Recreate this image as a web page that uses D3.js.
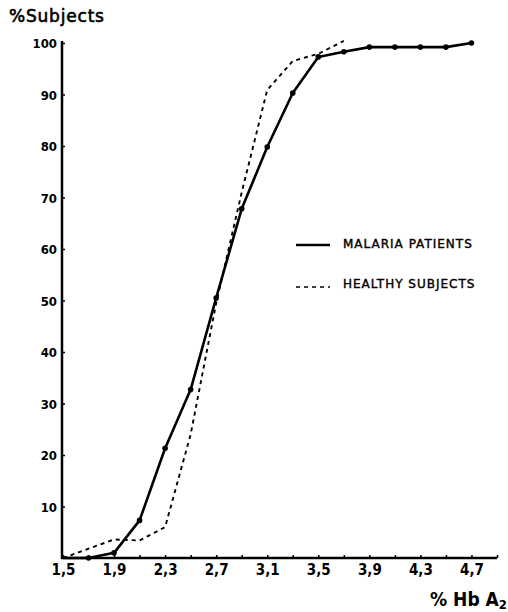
<!DOCTYPE html>
<html>
<head>
<meta charset="utf-8">
<script src="https://cdn.jsdelivr.net/npm/d3@7"></script>
<style>
  body { margin: 0; background: #fff; }
  svg { display: block; }
  .tick text { font-family: "Liberation Sans Narrow", "DejaVu Sans Condensed", sans-serif; font-weight: bold; fill: #000; }
</style>
</head>
<body>
<div id="vis"></div>
<script>
const width = 508;
const height = 612;

// % Hb A2 classes
const hbMalaria = [1.5, 1.7, 1.9, 2.1, 2.3, 2.5, 2.7, 2.9, 3.1, 3.3, 3.5, 3.7, 3.9, 4.1, 4.3, 4.5, 4.7];
const pctMalaria = [0, 0, 1, 7.3, 21.3, 32.7, 50.5, 67.8, 79.8, 90.3, 97.3, 98.3, 99.2, 99.2, 99.2, 99.2, 100];

const hbHealthy = [1.5, 1.7, 1.9, 2.1, 2.3, 2.5, 2.7, 2.9, 3.1, 3.3, 3.5, 3.7];
const pctHealthy = [0, 1.8, 3.6, 3.4, 6, 24, 49.5, 71, 90.9, 96.5, 97.9, 100.4];

const yTicks = [10, 20, 30, 40, 50, 60, 70, 80, 90, 100];
const xTicks = [1.5, 1.7, 1.9, 2.1, 2.3, 2.5, 2.7, 2.9, 3.1, 3.3, 3.5, 3.7, 3.9, 4.1, 4.3, 4.5, 4.7, 4.9];
const xLabels = [1.5, 1.9, 2.3, 2.7, 3.1, 3.5, 3.9, 4.3, 4.7];

const malaria = hbMalaria.map((h, i) => ({ x: h, y: pctMalaria[i] }));
const healthy = hbHealthy.map((h, i) => ({ x: h, y: pctHealthy[i] }));

const svg = d3.select("#vis").append("svg")
    .attr("width", width)
    .attr("height", height);

const xScale = d3.scaleLinear().domain([1.5, 4.9]).range([63, 497]);
const yScale = d3.scaleLinear().domain([0, 100]).range([558, 43]);

// y axis
const yAxis = svg.append("g")
    .attr("transform", "translate(62,0)")
    .call(d3.axisLeft(yScale)
        .tickValues(yTicks)
        .tickSize(-3)
        .tickSizeOuter(0)
        .tickPadding(5)
        .tickFormat(d3.format("d")));
yAxis.select(".domain").remove();
yAxis.selectAll(".tick line").attr("stroke", "#000").attr("stroke-width", 1.5);
yAxis.selectAll(".tick text").style("font-size", "13px").attr("dy", "0.35em");

// x axis
const xAxis = svg.append("g")
    .attr("transform", "translate(0,558)")
    .call(d3.axisBottom(xScale)
        .tickValues(xTicks)
        .tickSize(-3)
        .tickSizeOuter(0)
        .tickPadding(6)
        .tickFormat(d => xLabels.some(v => Math.abs(v - d) < 1e-6) ? d3.format(".1f")(d).replace(".", ",") : ""));
xAxis.select(".domain").remove();
xAxis.selectAll(".tick line").attr("stroke", "#000").attr("stroke-width", 1.5);
xAxis.selectAll(".tick text").style("font-size", "15px");

// axis lines
svg.append("line")
    .attr("x1", 62).attr("x2", 62)
    .attr("y1", yScale(0) + 1).attr("y2", yScale(100) - 2)
    .attr("stroke", "#000").attr("stroke-width", 2.5);
svg.append("line")
    .attr("x1", 61).attr("x2", xScale(4.9))
    .attr("y1", yScale(0)).attr("y2", yScale(0))
    .attr("stroke", "#000").attr("stroke-width", 2.5);

const line = d3.line().x(d => xScale(d.x)).y(d => yScale(d.y));

svg.append("path")
    .datum(healthy)
    .attr("fill", "none")
    .attr("stroke", "#000")
    .attr("stroke-width", 1.9)
    .attr("stroke-dasharray", "4,4")
    .attr("d", line);

svg.append("path")
    .datum(malaria)
    .attr("fill", "none")
    .attr("stroke", "#000")
    .attr("stroke-width", 2.6)
    .attr("stroke-linejoin", "round")
    .attr("d", line);

svg.selectAll("circle.malaria")
    .data(malaria.slice(1))
    .enter().append("circle")
    .attr("class", "malaria")
    .attr("cx", d => xScale(d.x))
    .attr("cy", d => yScale(d.y))
    .attr("r", 2.8)
    .attr("fill", "#000");

// titles
svg.append("text")
    .attr("x", 9).attr("y", 22)
    .style("font-family", "'DejaVu Sans', sans-serif")
    .style("font-size", "17px")
    .style("letter-spacing", "0.8px")
    .style("stroke", "#000")
    .style("stroke-width", 0.6)
    .text("%Subjects");

const xt = svg.append("text")
    .attr("x", 430).attr("y", 606)
    .style("font-family", "'DejaVu Sans Condensed', sans-serif")
    .style("font-weight", "bold")
    .style("font-size", "19px")
    .text("% Hb A");
xt.append("tspan")
    .attr("dy", 3)
    .style("font-size", "13px")
    .text("2");

// legend
const legend = [
    { label: "MALARIA PATIENTS", dash: null, w: 2.6, y: 245, ty: 248 },
    { label: "HEALTHY SUBJECTS", dash: "4,4", w: 1.6, y: 287, ty: 288 }
];
legend.forEach(l => {
    svg.append("line")
        .attr("x1", 296).attr("x2", 330)
        .attr("y1", l.y).attr("y2", l.y)
        .attr("stroke", "#000")
        .attr("stroke-width", l.w)
        .attr("stroke-dasharray", l.dash);
    svg.append("text")
        .attr("x", 343).attr("y", l.ty)
        .style("font-family", "'DejaVu Sans', sans-serif")
        .style("font-size", "12px")
        .style("letter-spacing", "1px")
        .style("stroke", "#000")
        .style("stroke-width", 0.4)
        .text(l.label);
});
</script>
</body>
</html>
